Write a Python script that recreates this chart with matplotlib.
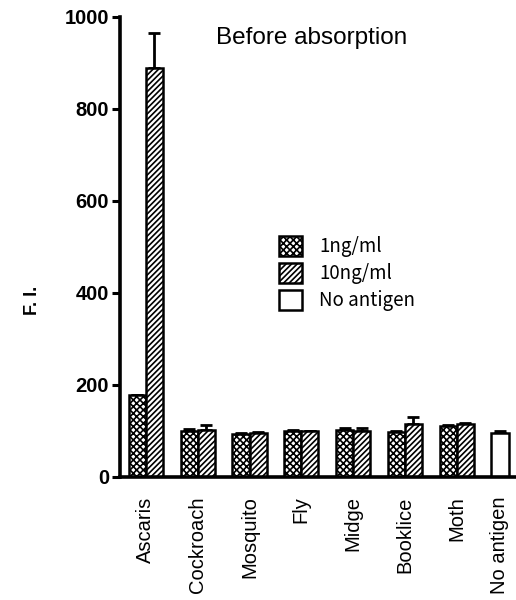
import numpy as np
import matplotlib
matplotlib.use("Agg")
import matplotlib.pyplot as plt

# values
categories = ["Ascaris", "Cockroach", "Mosquito", "Fly", "Midge", "Booklice", "Moth", "No antigen"]
fi_1ng = [178, 101, 94, 99, 103, 98, 111]
err_1ng = [1, 3, 2, 3, 3, 2, 2]
fi_10ng = [890, 103, 96, 99, 101, 115, 115]
err_10ng = [75, 11, 2, 2, 5, 16, 2]
fi_none = [96]
err_none = [3]

plt.rcParams['font.family'] = ['Liberation Sans', 'DejaVu Sans']
plt.rcParams['hatch.linewidth'] = 1.2

fig = plt.figure(figsize=(5.16, 6.0), dpi=100)
ax = fig.add_axes([0.2326, 0.205, 0.765, 0.7667])

w = 0.33
x = np.arange(len(fi_1ng))
errkw = dict(fmt='none', ecolor='black', elinewidth=2, capsize=4, capthick=2)

ax.bar(x - w / 2, fi_1ng, w, color='white', edgecolor='black', linewidth=1.8,
       hatch='xxxxx', label='1ng/ml', zorder=2)
ax.errorbar(x - w / 2, fi_1ng, yerr=[np.zeros(len(err_1ng)), err_1ng], zorder=1, **errkw)
ax.bar(x + w / 2, fi_10ng, w, color='white', edgecolor='black', linewidth=1.8,
       hatch='//////', label='10ng/ml', zorder=2)
ax.errorbar(x + w / 2, fi_10ng, yerr=[np.zeros(len(err_10ng)), err_10ng], zorder=1, **errkw)

x_none = np.array([len(fi_1ng) - w / 2])
ax.bar(x_none, fi_none, w, color='white', edgecolor='black', linewidth=1.8,
       label='No antigen', zorder=2)
ax.errorbar(x_none, fi_none, yerr=[[0], err_none], zorder=1, **errkw)

ax.set_xlim(-0.5, 7.12)
ax.set_ylim(0, 1000)
ax.set_yticks([0, 200, 400, 600, 800, 1000])
ax.set_xticks(list(x) + list(x_none))
ax.set_xticklabels(categories, rotation=90, fontsize=14.5)
ax.tick_params(axis='x', length=0, pad=14)
ax.tick_params(axis='y', length=6, width=2.2, labelsize=14.5, pad=2)
for lbl in ax.get_yticklabels():
    lbl.set_fontweight('bold')

for s in ['top', 'right']:
    ax.spines[s].set_visible(False)
for s in ['left', 'bottom']:
    ax.spines[s].set_linewidth(2.6)

ax.set_ylabel('F. I.', fontsize=13, fontweight='bold')
ax.yaxis.set_label_coords(-0.2, 0.385)
ax.text(0.485, 0.955, 'Before absorption', transform=ax.transAxes, fontsize=17.5,
        ha='center', va='center')

leg = ax.legend(loc='upper left', bbox_to_anchor=(0.36, 0.56), frameon=False,
                handlelength=1.2, handleheight=1.2, handletextpad=0.95,
                labelspacing=0.32, prop={'family': ['Noto Sans CJK JP', 'DejaVu Sans'], 'size': 13.5})

fig.savefig('out.png', dpi=100)
